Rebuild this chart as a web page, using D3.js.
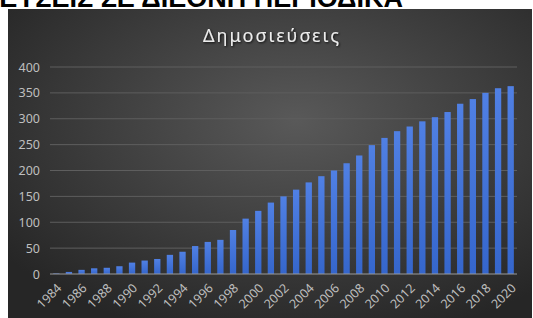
<!DOCTYPE html>
<html>
<head>
<meta charset="utf-8">
<script src="https://cdn.jsdelivr.net/npm/d3@7/dist/d3.min.js"></script>
<style>
  body { margin: 0; background: #fff; overflow: hidden; }
  svg { display: block; }
</style>
</head>
<body>
<div id="chart"></div>
<script>
  // data
  var years = d3.range(1984, 2021);
  var counts = [1, 4, 8, 11, 12, 15, 22, 26, 29, 37, 43, 54, 62, 66, 85, 107, 122, 138, 150,
                163, 177, 189, 200, 214, 229, 249, 263, 276, 285, 295, 303, 313, 329, 338, 350, 359, 363];
  var yTicks = [0, 50, 100, 150, 200, 250, 300, 350, 400];
  var xLabels = years.filter(function(y){ return y % 2 === 0; });

  var data = years.map(function(y, i){ return {year: y, value: counts[i]}; });

  var width = 533, height = 318;

  var svg = d3.select("#chart").append("svg")
      .attr("width", width)
      .attr("height", height);

  var defs = svg.append("defs");
  var bg = defs.append("radialGradient")
      .attr("id", "bg")
      .attr("cx", "55%").attr("cy", "35%").attr("r", "70%");
  bg.append("stop").attr("offset", "0%").attr("stop-color", "#595959");
  bg.append("stop").attr("offset", "100%").attr("stop-color", "#262626");

  var barGrad = defs.append("linearGradient")
      .attr("id", "bar")
      .attr("x1", 0).attr("y1", 0).attr("x2", 0).attr("y2", 1);
  barGrad.append("stop").attr("offset", "0%").attr("stop-color", "#5080e4");
  barGrad.append("stop").attr("offset", "100%").attr("stop-color", "#3566cc");

  var shadow = defs.append("filter").attr("id", "shadow");
  shadow.append("feDropShadow")
      .attr("dx", 1).attr("dy", 1).attr("stdDeviation", 1)
      .attr("flood-color", "#000").attr("flood-opacity", 0.8);

  // heading of the page, its top half is outside the picture in the reference
  svg.append("text")
      .attr("x", 403)
      .attr("y", 7)
      .attr("text-anchor", "end")
      .style("font-family", "'Liberation Sans', Arial, sans-serif")
      .style("font-weight", "bold")
      .style("font-size", "27px")
      .style("fill", "#000")
      .text("ΔΗΜΟΣΙΕΥΣΕΙΣ ΣΕ ΔΙΕΘΝΗ ΠΕΡΙΟΔΙΚΑ");

  // chart area
  svg.append("rect")
      .attr("x", 8).attr("y", 9)
      .attr("width", 524).attr("height", 320)
      .attr("fill", "url(#bg)");

  svg.append("text")
      .attr("x", 272)
      .attr("y", 42)
      .attr("text-anchor", "middle")
      .attr("filter", "url(#shadow)")
      .style("font-family", "'Noto Sans', sans-serif")
      .style("font-size", "18px")
      .style("letter-spacing", "2px")
      .style("fill", "#ececec")
      .text("Δημοσιεύσεις");

  var xScale = d3.scaleBand()
      .domain(years)
      .range([50, 517])
      .paddingInner(0.5)
      .paddingOuter(0.25);

  var yScale = d3.scaleLinear()
      .domain([0, 400])
      .range([274, 67]);

  // gridlines
  svg.selectAll(".grid")
      .data(yTicks.filter(function(t){ return t > 0; }))
      .enter().append("line")
      .attr("class", "grid")
      .attr("x1", 50).attr("x2", 517)
      .attr("y1", function(d){ return yScale(d); })
      .attr("y2", function(d){ return yScale(d); })
      .attr("stroke", "#5e5e5e")
      .attr("stroke-width", 1);

  // y axis labels
  var yAxis = d3.axisLeft(yScale).tickValues(yTicks).tickSize(0).tickPadding(10);
  var gy = svg.append("g").attr("transform", "translate(50,0)").call(yAxis);
  gy.select(".domain").remove();
  gy.selectAll("text")
      .style("font-family", "'Noto Sans', sans-serif")
      .style("font-size", "12.5px")
      .style("fill", "#bfbfbf");

  // bars
  svg.selectAll(".bar")
      .data(data).enter().append("rect")
      .attr("class", "bar")
      .attr("x", function(d){ return xScale(d.year); })
      .attr("y", function(d){ return yScale(d.value); })
      .attr("width", xScale.bandwidth())
      .attr("height", function(d){ return yScale(0) - yScale(d.value); })
      .attr("fill", "url(#bar)");

  // baseline
  svg.append("line")
      .attr("x1", 50).attr("x2", 517)
      .attr("y1", yScale(0)).attr("y2", yScale(0))
      .attr("stroke", "#9a9a9a")
      .attr("stroke-width", 1.2);

  // x labels, every other year, rotated
  svg.selectAll(".xlab")
      .data(xLabels).enter().append("text")
      .attr("class", "xlab")
      .attr("text-anchor", "end")
      .attr("transform", function(d){
        var cx = xScale(d) + xScale.bandwidth() / 2 + 6;
        return "translate(" + cx + "," + 289 + ") rotate(-45)";
      })
      .style("font-family", "'Noto Sans', sans-serif")
      .style("font-size", "12.5px")
      .style("fill", "#bfbfbf")
      .text(function(d){ return d; });
</script>
</body>
</html>
